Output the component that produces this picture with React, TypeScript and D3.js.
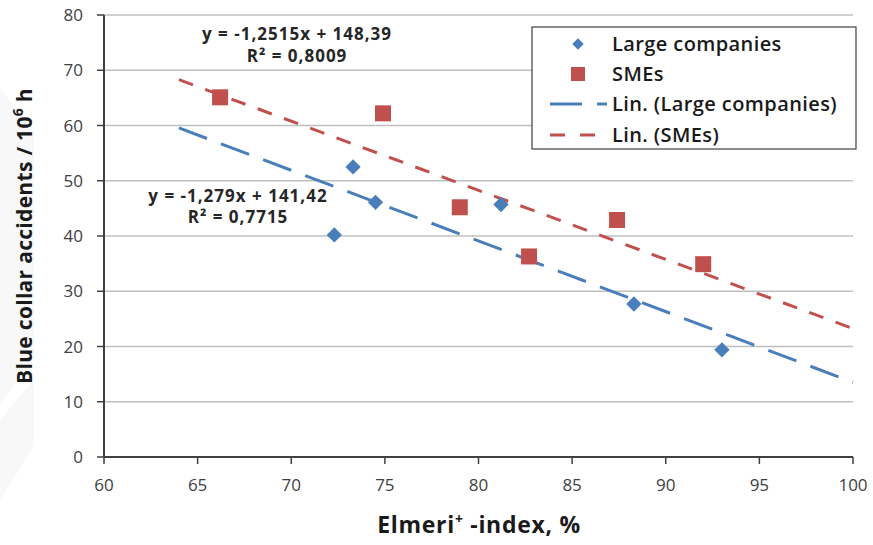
import React from "react";
import * as d3 from "d3";

const largeX = [72.3, 73.3, 74.5, 81.2, 88.3, 93.0];
const largeY = [40.2, 52.5, 46.1, 45.7, 27.7, 19.4];
const smeX = [66.2, 74.9, 79.0, 82.7, 87.4, 92.0];
const smeY = [65.1, 62.2, 45.2, 36.3, 42.9, 34.9];
const largeFit = { slope: -1.279, intercept: 141.42, eq: "y = -1,279x + 141,42", r2: "R² = 0,7715" };
const smeFit = { slope: -1.2515, intercept: 148.39, eq: "y = -1,2515x + 148,39", r2: "R² = 0,8009" };
const fitRange = [64, 100];
const xTicks = [60, 65, 70, 75, 80, 85, 90, 95, 100];
const yTicks = [0, 10, 20, 30, 40, 50, 60, 70, 80];
const legendLabels = ["Large companies", "SMEs", "Lin. (Large companies)", "Lin. (SMEs)"];

const BLUE = "#4a7ebb";
const RED = "#c0504d";
const FONT = "'Open Sans', sans-serif";

export default function App() {
  const W = 873, H = 545;
  const left = 104, right = 853, top = 15, bottom = 457;
  const x = d3.scaleLinear().domain([60, 100]).range([left, right]);
  const y = d3.scaleLinear().domain([0, 80]).range([bottom, top]);
  const fitPath = (f: { slope: number; intercept: number }) =>
    d3.line<number>().x((d) => x(d)).y((d) => y(f.slope * d + f.intercept))(fitRange) as string;
  const diamond = d3.symbol().type(d3.symbolDiamond2).size(150)() as string;

  const lg = { x: 532, y: 27, w: 324, h: 122 };
  const rowY = [44, 74, 104, 135];

  return (
    <svg width={W} height={H} style={{ position: "absolute", left: 0, top: 0, background: "#fff" }} fontFamily={FONT}>
      <rect width={W} height={H} fill="#fff" />
      {/* faint watermark */}
      <polygon points="0,88 34,132 34,355 0,405" fill="#f8f8f8" />
      <polygon points="0,420 34,380 34,445 0,500" fill="#f8f8f8" />
      {/* gridlines */}
      {yTicks.filter((t) => t > 0).map((t) => (
        <line key={t} x1={left} x2={right} y1={y(t)} y2={y(t)} stroke="#bfbfbf" strokeWidth={1.5} />
      ))}
      {/* axes */}
      <line x1={left} x2={left} y1={top} y2={bottom} stroke="#404040" strokeWidth={2} />
      <line x1={left} x2={right} y1={bottom} y2={bottom} stroke="#404040" strokeWidth={2} />
      {yTicks.map((t) => (
        <g key={t}>
          <line x1={left - 7} x2={left} y1={y(t)} y2={y(t)} stroke="#404040" strokeWidth={1.5} />
          <text x={83} y={y(t) + 6} textAnchor="end" fontSize={17} fill="#404040">{t}</text>
        </g>
      ))}
      {xTicks.map((t) => (
        <g key={t}>
          <line x1={x(t)} x2={x(t)} y1={bottom} y2={bottom + 7} stroke="#404040" strokeWidth={1.5} />
          <text x={x(t)} y={491} textAnchor="middle" fontSize={17} fill="#404040">{t}</text>
        </g>
      ))}
      {/* trend lines */}
      <path d={fitPath(largeFit)} stroke={BLUE} strokeWidth={3} strokeDasharray="30,15" fill="none" />
      <path d={fitPath(smeFit)} stroke={RED} strokeWidth={3} strokeDasharray="15,13" fill="none" />
      {/* points */}
      {smeX.map((v, i) => (
        <rect key={i} x={x(v) - 8} y={y(smeY[i]) - 8} width={16} height={16} fill={RED} />
      ))}
      {largeX.map((v, i) => (
        <path key={i} d={diamond} transform={`translate(${x(v)},${y(largeY[i])})`} fill={BLUE} />
      ))}
      {/* equations */}
      <g fontWeight={700} fontSize={17} letterSpacing={1} fill="#262626" textAnchor="middle">
        <text x={297} y={40}>{smeFit.eq}</text>
        <text x={297} y={62}>{smeFit.r2}</text>
        <text x={238} y={202}>{largeFit.eq}</text>
        <text x={238} y={223}>{largeFit.r2}</text>
      </g>
      {/* legend */}
      <rect x={lg.x} y={lg.y} width={lg.w} height={lg.h} fill="#fff" stroke="#404040" strokeWidth={1.2} />
      <path d={diamond} transform={`translate(578,${rowY[0]}) scale(0.75)`} fill={BLUE} />
      <rect x={571} y={rowY[1] - 7} width={14} height={14} fill={RED} />
      <line x1={550} x2={607} y1={rowY[2]} y2={rowY[2]} stroke={BLUE} strokeWidth={3} strokeDasharray="32,15" />
      <line x1={550} x2={597} y1={rowY[3]} y2={rowY[3]} stroke={RED} strokeWidth={3} strokeDasharray="15,15" />
      <g fontSize={20} fontWeight={600} letterSpacing={0.4} fill="#1a1a1a">
        {legendLabels.map((l, i) => (
          <text key={l} x={612} y={rowY[i] + 7}>{l}</text>
        ))}
      </g>
      {/* axis titles */}
      <text x={479} y={533} textAnchor="middle" fontSize={23} letterSpacing={0.7} fontWeight={700} fill="#1a1a1a">
        Elmeri<tspan baselineShift="super" fontSize={14}>+</tspan> -index, %
      </text>
      <text transform="translate(32,236) rotate(-90)" textAnchor="middle" fontSize={21} letterSpacing={0.3} fontWeight={700} fill="#1a1a1a">
        Blue collar accidents / 10<tspan baselineShift="super" fontSize={14}>6</tspan> h
      </text>
    </svg>
  );
}
